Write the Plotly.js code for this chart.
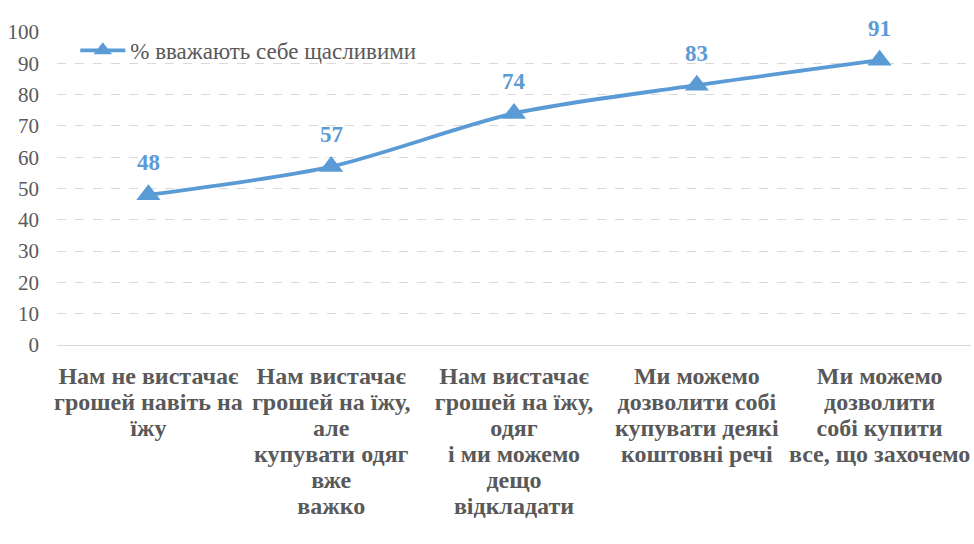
<!DOCTYPE html>
<html>
<head>
<meta charset="utf-8">
<script src="https://cdn.plot.ly/plotly-3.0.1.min.js"></script>
<style>
  html, body { margin: 0; padding: 0; background: #fff; }
  #chart { width: 974px; height: 544px; }
</style>
</head>
<body>
<div id="chart"></div>
<script>
// categories (x axis) and the single series
const categories = [
    'Нам не вистачає<br>грошей навіть на<br>їжу',
    'Нам вистачає<br>грошей на їжу,<br>але<br>купувати одяг<br>вже<br>важко',
    'Нам вистачає<br>грошей на їжу,<br>одяг<br>і ми можемо<br>дещо<br>відкладати',
    'Ми можемо<br>дозволити собі<br>купувати деякі<br>коштовні речі',
    'Ми можемо<br>дозволити<br>собі купити<br>все, що захочемо',
];
const happyValues = [48, 57, 74, 83, 91];
const seriesName = '% вважають себе щасливими';
const yTicks = [0, 10, 20, 30, 40, 50, 60, 70, 80, 90, 100];

const blue = '#5B9BD5';
const grey = '#595959';
const serif = 'Liberation Serif';

const trace = {
    x: categories,
    y: happyValues,
    name: seriesName,
    type: 'scatter',
    mode: 'lines+markers',
    line: { color: blue, width: 3.8, shape: 'spline', smoothing: 0.8 },
    marker: { symbol: 'triangle-up', size: 21, color: blue },
    showlegend: true,
};

// data labels above each point
const labels = categories.map((c, i) => ({
    x: c,
    y: happyValues[i],
    text: '<b>' + happyValues[i] + '</b>',
    showarrow: false,
    yshift: 32,
    font: { family: serif, size: 23, color: blue },
}));

const layout = {
    width: 974,
    height: 544,
    margin: { l: 57, r: 3, t: 32, b: 199 },
    paper_bgcolor: '#fff',
    plot_bgcolor: '#fff',
    font: { family: serif, color: grey },
    xaxis: {
        type: 'category',
        range: [-0.5, 4.5],
        showgrid: false,
        zeroline: false,
        showline: false,
        ticks: '',
        tickangle: 0,
        ticklabelstandoff: 14,
        tickfont: { family: serif, size: 24, color: grey, weight: 'bold' },
    },
    yaxis: {
        range: [0, 100],
        tickvals: yTicks,
        showgrid: true,
        gridcolor: '#d9d9d9',
        griddash: 'dash',
        gridwidth: 1,
        zeroline: true,
        zerolinecolor: '#d9d9d9',
        zerolinewidth: 1,
        showline: false,
        ticks: '',
        ticklabelstandoff: 17,
        tickfont: { family: serif, size: 21, color: grey },
    },
    legend: {
        x: 0.02,
        y: 1.01,
        xanchor: 'left',
        yanchor: 'top',
        itemwidth: 45,
        bgcolor: 'rgba(0,0,0,0)',
        font: { family: serif, size: 23, color: grey },
    },
    annotations: labels,
};

Plotly.newPlot('chart', [trace], layout, { displayModeBar: false, staticPlot: true }).then(() => {
    // tighter line spacing for the wrapped category labels, like the original
    document.querySelectorAll('.xtick text tspan.line').forEach((t) => {
        const dy = parseFloat(t.getAttribute('dy'));
        if (dy) t.setAttribute('dy', (dy / 1.3 * 1.08).toFixed(3) + 'em');
    });
});
</script>
</body>
</html>
